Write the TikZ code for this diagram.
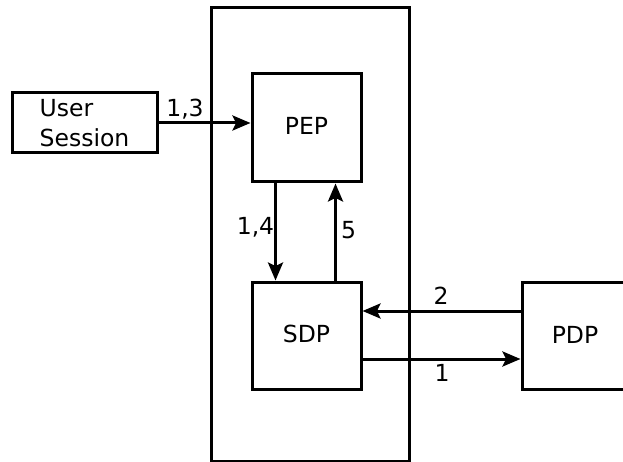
\documentclass[tikz,border=0pt]{standalone}
\usepackage{fontspec}
\setmainfont{DejaVu Sans}
\usetikzlibrary{arrows.meta}
\tikzset{
  box/.style={draw, line width=3pt, rectangle, inner sep=0pt},
  lbl/.style={anchor=base, inner sep=0pt},
  arr/.style={line width=3pt, -{Stealth[length=18pt,width=15pt,inset=3.5pt]}},
}
\begin{document}
\begin{tikzpicture}[x=1pt,y=-1pt, font=\fontsize{23.5}{30}\selectfont]
\useasboundingbox (0,0) rectangle (623,462);
\node[box, minimum width=198pt, minimum height=453pt] (container) at (310,234.5) {};
\node[box, minimum width=145pt, minimum height=60pt, align=left] (user) at (84.5,123) {User\\Session};
\node[box, minimum width=109pt, minimum height=108pt, text depth=0.35em] (pep) at (306.5,128) {PEP};
\node[box, minimum width=109pt, minimum height=107pt, text depth=0.38em] (sdp) at (306.5,335.5) {SDP};
\node[box, minimum width=106pt, minimum height=107pt, text depth=0.2em] (pdp) at (575,335.5) {PDP};
\draw[arr] (user.east) -- (user.east -| pep.west);
\draw[arr] ([xshift=25pt]pep.south west) -- ([xshift=25pt]sdp.north west);
\draw[arr] ([xshift=-27pt]sdp.north east) -- ([xshift=-27pt]pep.south east);
\draw[arr] ([yshift=24.5pt]pdp.west) -- ([yshift=24.5pt]pdp.west -| sdp.east);
\draw[arr] ([yshift=-23.5pt]sdp.east) -- ([yshift=-23.5pt]sdp.east -| pdp.west);
\node[lbl] (l13) at (185,117) {1,3};
\node[lbl] (l14) at (255.5,235) {1,4};
\node[lbl] (l5) at (348.5,239) {5};
\node[lbl] (l2) at (441,304) {2};
\node[lbl] (l1) at (442,381) {1};
\end{tikzpicture}
\end{document}
